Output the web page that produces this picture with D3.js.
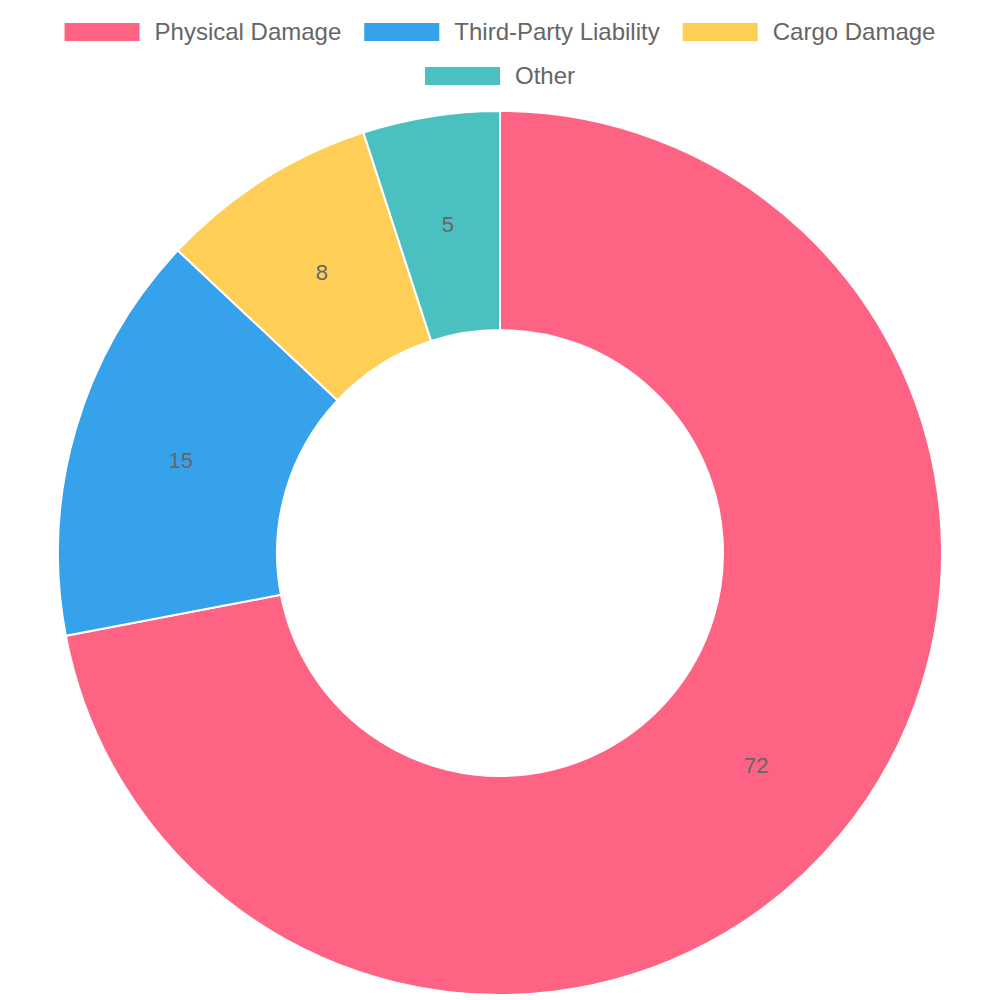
<!DOCTYPE html>
<html><head><meta charset="utf-8">
<script src="https://cdn.jsdelivr.net/npm/d3@7"></script>
<style>body{margin:0;background:#fff}text{font-family:"Liberation Sans",Arial,sans-serif}</style>
</head><body><svg id="chart" width="1000" height="1000"></svg>
<script>
const categories = ['Physical Damage', 'Third-Party Liability', 'Cargo Damage', 'Other'];
const values = [72, 15, 8, 5];
const colors = ['#FF6384', '#36A2EB', '#FFCE56', '#4BC0C0'];

const svg = d3.select('#chart');
const cx = 500, cy = 553, outerR = 442, innerR = 223;

const pie = d3.pie().sort(null).value(d => d)(values);
const arc = d3.arc().innerRadius(innerR).outerRadius(outerR);
const labelArc = d3.arc().innerRadius((innerR + outerR) / 2).outerRadius((innerR + outerR) / 2);

const g = svg.append('g').attr('transform', 'translate(' + cx + ',' + cy + ')');
g.selectAll('path').data(pie).join('path')
  .attr('d', arc)
  .attr('fill', (d, i) => colors[i])
  .attr('stroke', '#fff').attr('stroke-width', 2);
g.selectAll('text').data(pie).join('text')
  .attr('transform', d => 'translate(' + labelArc.centroid(d) + ')')
  .attr('text-anchor', 'middle').attr('dy', '0.35em')
  .attr('font-size', 22).attr('fill', '#666')
  .text(d => d.data);

// legend: measure then wrap into centered rows
const boxW = 75, boxH = 18, gapText = 15, itemGap = 23, fontSize = 24, maxW = 920;
const tmp = svg.append('text').attr('font-size', fontSize);
const widths = categories.map(c => { tmp.text(c); return tmp.node().getComputedTextLength(); });
tmp.remove();
const rows = [[]]; let rowW = 0;
categories.forEach((c, i) => {
  const w = boxW + gapText + widths[i];
  if (rows[rows.length - 1].length && rowW + itemGap + w > maxW) { rows.push([]); rowW = 0; }
  rowW += (rows[rows.length - 1].length ? itemGap : 0) + w;
  rows[rows.length - 1].push(i);
});
rows.forEach((row, r) => {
  const total = d3.sum(row, i => boxW + gapText + widths[i]) + itemGap * (row.length - 1);
  let x = (1000 - total) / 2;
  const y = 32 + r * 44;
  row.forEach(i => {
    svg.append('rect').attr('x', x).attr('y', y - boxH / 2).attr('width', boxW).attr('height', boxH)
      .attr('fill', colors[i]);
    svg.append('text').attr('x', x + boxW + gapText).attr('y', y).attr('dy', '0.35em')
      .attr('font-size', fontSize).attr('fill', '#666').text(categories[i]);
    x += boxW + gapText + widths[i] + itemGap;
  });
});
</script></body></html>
